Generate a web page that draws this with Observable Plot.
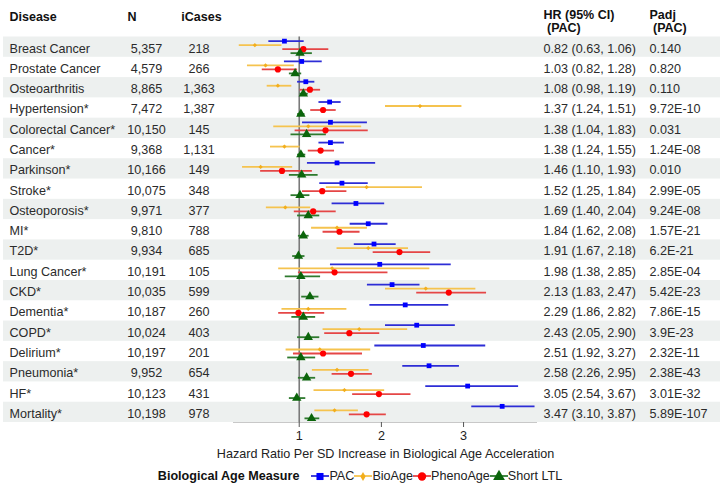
<!DOCTYPE html>
<html><head><meta charset="utf-8">
<script src="https://cdn.jsdelivr.net/npm/d3@7"></script>
<script src="https://cdn.jsdelivr.net/npm/@observablehq/plot@0.6"></script>
<style>
body{margin:0;background:#fff;font-family:"Liberation Sans",Arial,sans-serif;}
#legend{height:25px;display:flex;align-items:center;justify-content:center;font-size:12.6px;color:#222;padding-top:1px;}
#legend b{margin-right:12px;color:#111;}
#legend span.item{display:inline-flex;align-items:center;}
#legend svg{display:block;}
</style></head><body><div id="chart"></div><div id="legend"></div>
<script>
const diseases = ["Breast Cancer","Prostate Cancer","Osteoarthritis","Hypertension*","Colorectal Cancer*","Cancer*","Parkinson*","Stroke*","Osteoporosis*","MI*","T2D*","Lung Cancer*","CKD*","Dementia*","COPD*","Delirium*","Pneumonia*","HF*","Mortality*"];
const nTotal = ["5,357","4,579","8,865","7,472","10,150","9,368","10,166","10,075","9,971","9,810","9,934","10,191","10,035","10,187","10,024","10,197","9,952","10,123","10,198"];
const iCases = ["218","266","1,363","1,387","145","1,131","149","348","377","788","685","105","599","260","403","201","654","431","978"];
const padj = ["0.140","0.820","0.110","9.72E-10","0.031","1.24E-08","0.010","2.99E-05","9.24E-08","1.57E-21","6.2E-21","2.85E-04","5.42E-23","7.86E-15","3.9E-23","2.32E-11","2.38E-43","3.01E-32","5.89E-107"];
// [estimate, lower, upper]
const pac = [[0.82,0.63,1.06],[1.03,0.82,1.28],[1.08,0.98,1.19],[1.37,1.24,1.51],[1.38,1.04,1.83],[1.38,1.24,1.55],[1.46,1.10,1.93],[1.52,1.25,1.84],[1.69,1.40,2.04],[1.84,1.62,2.08],[1.91,1.67,2.18],[1.98,1.38,2.85],[2.13,1.83,2.47],[2.29,1.86,2.82],[2.43,2.05,2.90],[2.51,1.92,3.27],[2.58,2.26,2.95],[3.05,2.54,3.67],[3.47,3.10,3.87]];
const bioAge = [[0.46,0.27,0.79],[0.59,0.37,0.94],[0.74,0.61,0.91],[2.47,2.05,2.98],[1.11,0.69,1.76],[0.82,0.65,1.01],[0.53,0.31,0.92],[1.82,1.33,2.50],[0.83,0.60,1.14],[1.46,1.15,1.83],[1.84,1.46,2.33],[1.40,0.75,2.59],[2.54,2.05,3.15],[1.11,0.79,1.58],[1.73,1.29,2.32],[1.25,0.84,1.87],[1.46,1.16,1.85],[1.55,1.18,2.04],[1.43,1.19,1.72]];
const phenoAge = [[1.05,0.80,1.36],[0.74,0.55,0.98],[1.13,1.01,1.26],[1.29,1.14,1.45],[1.32,0.95,1.84],[1.26,1.11,1.43],[0.79,0.53,1.16],[1.28,1.04,1.58],[1.17,0.94,1.45],[1.49,1.29,1.74],[2.22,1.90,2.60],[1.43,0.99,2.08],[2.82,2.43,3.28],[0.99,0.75,1.31],[1.61,1.31,1.98],[1.29,0.93,1.77],[1.63,1.40,1.89],[1.97,1.65,2.36],[1.82,1.61,2.06]];
const shortLTL = [[1.01,0.90,1.16],[0.95,0.88,1.03],[1.05,1.01,1.11],[1.02,0.98,1.07],[1.09,0.90,1.33],[1.02,0.98,1.08],[1.03,0.88,1.23],[1.01,0.90,1.13],[1.11,0.98,1.25],[1.05,0.99,1.12],[0.99,0.92,1.07],[1.02,0.83,1.26],[1.13,1.03,1.24],[1.05,0.91,1.20],[1.11,0.98,1.25],[1.02,0.86,1.20],[1.09,0.99,1.20],[0.97,0.88,1.08],[1.15,1.07,1.25]];
const xTicks = [1, 2, 3];
const xLabel = "Hazard Ratio Per SD Increase in Biological Age Acceleration";

const f2 = d3.format(".2f");
const rows = diseases.map((d, i) => ({
  i, disease: d, n: nTotal[i], cases: iCases[i], padj: padj[i],
  hr: `${f2(pac[i][0])} (${f2(pac[i][1])}, ${f2(pac[i][2])})`
}));
const shaded = rows.filter(r => r.i % 2 === 0);

const measures = [
  {name: "PAC", data: pac, line: "#2d2dd6", fill: "#0000ff", symbol: "square", r: 2.7, rotate: 0, dy: -6},
  {name: "BioAge", data: bioAge, line: "#f5c34f", fill: "#f2ae1c", symbol: "square", r: 1.7, rotate: 45, dy: -2},
  {name: "PhenoAge", data: phenoAge, line: "#e54646", fill: "#ff0000", symbol: "circle", r: 3.1, rotate: 0, dy: 2},
  {name: "Short LTL", data: shortLTL, line: "#2e7a2e", fill: "#0b650b", symbol: "triangle", r: 3.5, rotate: 0, dy: 6}
];

const txt = {fontSize: 12.6, fill: "#2b2b2b", fontFamily: "Liberation Sans, Arial, sans-serif"};
const hdr = {fontSize: 12.5, fontWeight: "bold", fill: "#111", fontFamily: "Liberation Sans, Arial, sans-serif"};
function header(text, frameAnchor, dx, dy, textAnchor) {
  return Plot.text([text], {text: d => d, frameAnchor, dx, dy, textAnchor, lineAnchor: "middle", ...hdr});
}

const marks = [
  Plot.rect(shaded, {x1: 0.2, x2: 3.9, y1: d => d.i - 0.5, y2: d => d.i + 0.5, fill: "#edf0ef", insetLeft: -230, insetRight: -183}),
  Plot.ruleY([18.5], {stroke: "#c8c8c8", strokeWidth: 1}),
  Plot.ruleX([1], {stroke: "#7a7a7a", strokeWidth: 1.6}),
];
for (const m of measures) {
  const data = m.data.map((v, i) => ({i, est: v[0], lo: v[1], hi: v[2]}));
  marks.push(Plot.ruleY(data, {y: "i", x1: "lo", x2: "hi", dy: m.dy, stroke: m.line, strokeWidth: 1.8}));
}
for (const m of measures) {
  const data = m.data.map((v, i) => ({i, est: v[0], lo: v[1], hi: v[2]}));
  marks.push(Plot.dot(data, {x: "est", y: "i", dy: m.dy, symbol: m.symbol, r: m.r, rotate: m.rotate, fill: m.fill, stroke: "none"}));
}
marks.push(
  Plot.text(rows, {y: "i", text: "disease", frameAnchor: "left", dx: -224, dy: 1.4, textAnchor: "start", ...txt}),
  Plot.text(rows, {y: "i", text: "n", frameAnchor: "left", dx: -87, dy: 1.4, textAnchor: "middle", ...txt}),
  Plot.text(rows, {y: "i", text: "cases", frameAnchor: "left", dx: -34.5, dy: 1.4, textAnchor: "middle", ...txt}),
  Plot.text(rows, {y: "i", text: "hr", frameAnchor: "right", dx: 6, dy: 1.4, textAnchor: "start", ...txt}),
  Plot.text(rows, {y: "i", text: "padj", frameAnchor: "right", dx: 112, dy: 1.4, textAnchor: "start", ...txt}),
  header("Disease", "top-left", -224, -20.5, "start"),
  header("N", "top-left", -101.5, -20.5, "middle"),
  header("iCases", "top-left", -32, -20.5, "middle"),
  header("HR (95% CI)", "top-right", 6, -22.5, "start"),
  header(" (PAC)", "top-right", 6, -9, "start"),
  header("Padj", "top-right", 112, -22.5, "start"),
  header(" (PAC)", "top-right", 112, -9, "start"),
  Plot.axisX(xTicks, {tickSize: 5, tickPadding: 4, stroke: "#555", fontSize: 12.6, color: "#222", label: null}),
  Plot.text([xLabel], {text: d => d, frameAnchor: "bottom", dy: 31, lineAnchor: "middle", ...txt, fill: "#222"})
);

const chart = Plot.plot({
  width: 720, height: 462,
  marginLeft: 233, marginRight: 183, marginTop: 36.5, marginBottom: 40,
  style: {fontFamily: "Liberation Sans, Arial, sans-serif", background: "#fff", overflow: "visible"},
  x: {type: "linear", domain: [0.2, 3.9]},
  y: {domain: [18.5, -0.5], axis: null},
  marks
});
document.getElementById("chart").appendChild(chart);

// legend
const leg = document.getElementById("legend");
const title = document.createElement("b");
title.textContent = "Biological Age Measure";
leg.appendChild(title);
const sym = {square: d3.symbolSquare, circle: d3.symbolCircle, triangle: d3.symbolTriangle, diamond: d3.symbolDiamond};
const legendSym = {"PAC": ["square", 50], "BioAge": ["diamond", 24], "PhenoAge": ["circle", 55], "Short LTL": ["triangle", 60]};
for (const m of measures) {
  const item = document.createElement("span");
  item.className = "item";
  const [s, size] = legendSym[m.name];
  const svg = d3.create("svg").attr("width", 18).attr("height", 14);
  svg.append("line").attr("x1", 0).attr("x2", 18).attr("y1", 7).attr("y2", 7).attr("stroke", m.line).attr("stroke-width", 1.8);
  svg.append("path").attr("transform", "translate(9,7.5)").attr("d", d3.symbol(sym[s], size)()).attr("fill", m.fill);
  item.appendChild(svg.node());
  const t = document.createElement("span");
  t.textContent = m.name;
  item.appendChild(t);
  leg.appendChild(item);
}
</script></body></html>
